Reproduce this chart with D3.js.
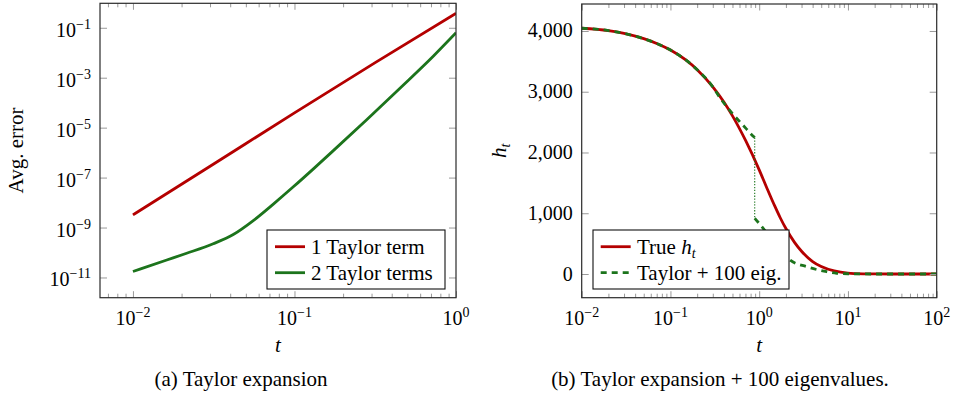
<!DOCTYPE html>
<html>
<head>
<meta charset="utf-8">
<script src="https://cdn.jsdelivr.net/npm/d3@7"></script>
<style>
  html, body { margin: 0; padding: 0; background: #fff; }
  svg { display: block; }
  svg text { font-family: "Liberation Serif", "Times New Roman", serif; }
</style>
</head>
<body>
<svg id="fig" width="956" height="401"></svg>
<script>
// ---------- panel (a): average error of the Taylor approximation ----------
const errT1   = [0.01, 0.0316, 0.1, 0.316, 1];
const errVal1 = [3.2e-9, 3.5e-7, 3.9e-5, 4.0e-3, 0.38];
const errT2   = [0.01, 0.0162, 0.0215, 0.0314, 0.0418, 0.0556, 0.074, 0.0984, 0.131, 0.174, 0.28, 0.45, 0.723, 1];
const errVal2 = [1.74e-11, 5.0e-11, 9.3e-11, 2.24e-10, 5.25e-10, 1.9e-9, 8.7e-9, 4.27e-8, 2.24e-7, 1.2e-6, 2.09e-5, 3.8e-4, 7.24e-3, 6.3e-2];
const errXDomain = [Math.pow(10, -2.204), 1];
const errYDomain = [Math.pow(10, -11.81), Math.pow(10, -0.02)];
const errXTicks = [0.01, 0.1, 1];
const errYTicks = [1e-11, 1e-9, 1e-7, 1e-5, 1e-3, 1e-1];
const errLegend = ["1 Taylor term", "2 Taylor terms"];

// ---------- panel (b): h_t, exact vs. Taylor + 100 eigenvalues ----------
const hT     = [0.01, 0.02, 0.03, 0.05, 0.07, 0.1, 0.15, 0.2, 0.3, 0.4, 0.5, 0.7, 1, 1.2, 1.5, 1.72, 2, 2.5, 3, 4, 5, 7, 10, 15, 20, 50, 100];
const hTrue  = [4045, 4006, 3960, 3873, 3794, 3686, 3519, 3363, 3081, 2831, 2603, 2202, 1714, 1441, 1116, 930, 748, 520, 374, 205, 123, 50, 14, 3, 1, 0, 0];
// approximation before the jump in the eigenvalue count
const hApxT1 = [0.01, 0.02, 0.03, 0.05, 0.07, 0.1, 0.15, 0.2, 0.3, 0.36, 0.5, 0.6, 0.7, 0.8, 0.89];
const hApx1  = [4045, 4006, 3960, 3873, 3794, 3686, 3519, 3363, 3081, 2905, 2640, 2510, 2405, 2312, 2245];
// approximation after the jump
const hApxT2 = [0.89, 1.11, 1.5, 2.22, 3.43, 5.77, 7.46, 10, 20, 50, 100];
const hApx2  = [917, 752, 500, 230, 120, 38, 12, 4, 0, 0, 0];
const hXDomain = [0.01, 100];
const hYDomain = [-390, 4444];
const hXTicks = [0.01, 0.1, 1, 10, 100];
const hYTicks = [0, 1000, 2000, 3000, 4000];

const RED = "#b40000";
const GREEN = "#1c741c";

const svg = d3.select("#fig");

// minor ticks 2..9 per decade inside a log domain
function minorLogTicks(domain) {
  const out = [];
  const lo = Math.floor(Math.log10(domain[0])), hi = Math.ceil(Math.log10(domain[1]));
  for (let e = lo; e <= hi; e++) {
    for (let k = 2; k <= 9; k++) {
      const v = k * Math.pow(10, e);
      if (v >= domain[0] * 0.9999 && v <= domain[1] * 1.0001) out.push(v);
    }
  }
  return out;
}

// "10^n" label built from tspans
function powLabel(sel, v) {
  const e = Math.round(Math.log10(v));
  sel.append("tspan").text("10");
  sel.append("tspan").attr("font-size", 14).attr("dy", -8)
     .text(e < 0 ? "\u2212" + Math.abs(e) : String(e));
}

// frame + inward ticks on all four sides
function frame(g, x, y, box, opt) {
  const { left, right, top, bottom } = box;
  const tickColor = "#9a9a9a";
  const addAxis = (axis, tx, ty) => {
    const a = g.append("g").attr("transform", `translate(${tx},${ty})`).call(axis);
    a.select(".domain").remove();
    a.selectAll(".tick line").attr("stroke", tickColor).attr("stroke-width", 1);
    a.selectAll(".tick text").remove();
  };
  addAxis(d3.axisBottom(x).tickValues(opt.xMajor).tickSize(-6.5).tickFormat(""), 0, bottom);
  addAxis(d3.axisTop(x).tickValues(opt.xMajor).tickSize(-6.5).tickFormat(""), 0, top);
  if (opt.xMinor) {
    addAxis(d3.axisBottom(x).tickValues(opt.xMinor).tickSize(-4).tickFormat(""), 0, bottom);
    addAxis(d3.axisTop(x).tickValues(opt.xMinor).tickSize(-4).tickFormat(""), 0, top);
  }
  addAxis(d3.axisLeft(y).tickValues(opt.yMajor).tickSize(-7).tickFormat(""), left, 0);
  addAxis(d3.axisRight(y).tickValues(opt.yMajor).tickSize(-7).tickFormat(""), right, 0);
  g.append("rect")
    .attr("x", left).attr("y", top)
    .attr("width", right - left).attr("height", bottom - top)
    .attr("fill", "none").attr("stroke", "#2b2b2b").attr("stroke-width", 1.2);
}

// ======================= panel (a) =======================
{
  const box = { left: 100, right: 456, top: 3.3, bottom: 297.7 };
  const x = d3.scaleLog().domain(errXDomain).range([box.left, box.right]);
  const y = d3.scaleLog().domain(errYDomain).range([box.bottom, box.top]);
  const g = svg.append("g");

  g.append("clipPath").attr("id", "clipA").append("rect")
    .attr("x", box.left).attr("y", box.top)
    .attr("width", box.right - box.left).attr("height", box.bottom - box.top);

  const line = d3.line().x(d => x(d[0])).y(d => y(d[1])).curve(d3.curveMonotoneX);
  const plot = g.append("g").attr("clip-path", "url(#clipA)");
  plot.append("path").datum(d3.zip(errT1, errVal1)).attr("d", line)
    .attr("fill", "none").attr("stroke", RED).attr("stroke-width", 2.8);
  plot.append("path").datum(d3.zip(errT2, errVal2)).attr("d", line)
    .attr("fill", "none").attr("stroke", GREEN).attr("stroke-width", 2.8);

  frame(g, x, y, box, { xMajor: errXTicks, xMinor: minorLogTicks(errXDomain), yMajor: errYTicks });

  g.selectAll("text.xl").data(errXTicks).join("text").attr("class", "xl")
    .attr("x", d => x(d)).attr("y", 325).attr("text-anchor", "middle").attr("font-size", 20)
    .each(function (d) { powLabel(d3.select(this), d); });
  g.selectAll("text.yl").data(errYTicks).join("text").attr("class", "yl")
    .attr("x", box.left - 9).attr("y", d => y(d) + 9).attr("text-anchor", "end").attr("font-size", 20)
    .each(function (d) { powLabel(d3.select(this), d); });

  g.append("text").attr("x", (box.left + box.right) / 2).attr("y", 352)
    .attr("text-anchor", "middle").attr("font-size", 21).attr("font-style", "italic").text("t");
  g.append("text").attr("transform", `translate(23,${(box.top + box.bottom) / 2}) rotate(-90)`)
    .attr("text-anchor", "middle").attr("font-size", 21).text("Avg. error");

  // legend
  const lg = g.append("g");
  lg.append("rect").attr("x", 267).attr("y", 230).attr("width", 178).attr("height", 59)
    .attr("fill", "#fff").attr("stroke", "#111").attr("stroke-width", 1.1);
  [[RED, 246.7], [GREEN, 272.7]].forEach(([c, yy], i) => {
    lg.append("line").attr("x1", 275).attr("x2", 305).attr("y1", yy).attr("y2", yy)
      .attr("stroke", c).attr("stroke-width", 2.8);
    lg.append("text").attr("x", 311).attr("y", yy + 7.5).attr("font-size", 21).text(errLegend[i]);
  });

  g.append("text").attr("x", 241).attr("y", 386).attr("text-anchor", "middle")
    .attr("font-size", 21).text("(a) Taylor expansion");
}

// ======================= panel (b) =======================
{
  const box = { left: 581.7, right: 936.7, top: 4, bottom: 297.7 };
  const x = d3.scaleLog().domain(hXDomain).range([box.left, box.right]);
  const y = d3.scaleLinear().domain(hYDomain).range([box.bottom, box.top]);
  const g = svg.append("g");

  g.append("clipPath").attr("id", "clipB").append("rect")
    .attr("x", box.left).attr("y", box.top)
    .attr("width", box.right - box.left).attr("height", box.bottom - box.top);

  const line = d3.line().x(d => x(d[0])).y(d => y(d[1])).curve(d3.curveMonotoneX);
  const plot = g.append("g").attr("clip-path", "url(#clipB)");
  plot.append("path").datum(d3.zip(hT, hTrue)).attr("d", line)
    .attr("fill", "none").attr("stroke", RED).attr("stroke-width", 2.8);
  // thin dotted connector across the jump
  plot.append("line")
    .attr("x1", x(hApxT1[hApxT1.length - 1])).attr("x2", x(hApxT2[0]))
    .attr("y1", y(hApx1[hApx1.length - 1])).attr("y2", y(hApx2[0]))
    .attr("stroke", GREEN).attr("stroke-width", 1.1).attr("stroke-dasharray", "1.3,1.6");
  plot.append("path").datum(d3.zip(hApxT1, hApx1)).attr("d", line)
    .attr("fill", "none").attr("stroke", GREEN).attr("stroke-width", 2.8).attr("stroke-dasharray", "6,5");
  plot.append("path").datum(d3.zip(hApxT2, hApx2)).attr("d", line)
    .attr("fill", "none").attr("stroke", GREEN).attr("stroke-width", 2.8).attr("stroke-dasharray", "6,5");

  frame(g, x, y, box, { xMajor: hXTicks, xMinor: minorLogTicks(hXDomain), yMajor: hYTicks });

  g.selectAll("text.xl").data(hXTicks).join("text").attr("class", "xl")
    .attr("x", d => x(d)).attr("y", 325).attr("text-anchor", "middle").attr("font-size", 20)
    .each(function (d) { powLabel(d3.select(this), d); });
  const fmt = d3.format(",");
  g.selectAll("text.yl").data(hYTicks).join("text").attr("class", "yl")
    .attr("x", box.left - 9).attr("y", d => y(d) + 6.5).attr("text-anchor", "end").attr("font-size", 20)
    .text(d => fmt(d));

  g.append("text").attr("x", (box.left + box.right) / 2).attr("y", 352)
    .attr("text-anchor", "middle").attr("font-size", 21).attr("font-style", "italic").text("t");
  const yl = g.append("text").attr("transform", `translate(506,${(box.top + box.bottom) / 2}) rotate(-90)`)
    .attr("text-anchor", "middle").attr("font-size", 21).attr("font-style", "italic");
  yl.append("tspan").text("h");
  yl.append("tspan").attr("font-size", 14).attr("dy", 4).text("t");

  // legend
  const lg = g.append("g");
  lg.append("rect").attr("x", 593).attr("y", 230).attr("width", 196).attr("height", 59)
    .attr("fill", "#fff").attr("stroke", "#111").attr("stroke-width", 1.1);
  lg.append("line").attr("x1", 600.7).attr("x2", 630.7).attr("y1", 246.7).attr("y2", 246.7)
    .attr("stroke", RED).attr("stroke-width", 2.8);
  const t1 = lg.append("text").attr("x", 637).attr("y", 254.2).attr("font-size", 21);
  t1.append("tspan").text("True ");
  t1.append("tspan").attr("font-style", "italic").text("h");
  t1.append("tspan").attr("font-style", "italic").attr("font-size", 14).attr("dy", 4).text("t");
  lg.append("line").attr("x1", 600.7).attr("x2", 630.7).attr("y1", 272.7).attr("y2", 272.7)
    .attr("stroke", GREEN).attr("stroke-width", 2.8).attr("stroke-dasharray", "6,5");
  lg.append("text").attr("x", 637).attr("y", 280.2).attr("font-size", 21).text("Taylor + 100 eig.");

  g.append("text").attr("x", 720).attr("y", 386).attr("text-anchor", "middle")
    .attr("font-size", 21).text("(b) Taylor expansion + 100 eigenvalues.");
}
</script>
</body>
</html>
